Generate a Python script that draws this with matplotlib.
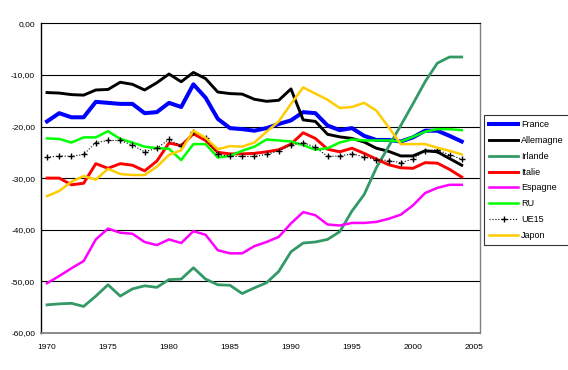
import matplotlib
matplotlib.use("Agg")
import matplotlib.pyplot as plt
from matplotlib.ticker import FuncFormatter

# ── data ────────────────────────────────────────────────────────────────────
years = list(range(1970, 2005))

france = [-19.0, -17.4, -18.2, -18.2, -15.2, -15.4, -15.6, -15.6, -17.4, -17.2,
          -15.4, -16.2, -11.8, -14.4, -18.5, -20.3, -20.5, -20.8, -20.3, -19.5,
          -18.8, -17.2, -17.4, -19.8, -20.7, -20.3, -21.8, -22.6, -22.6, -22.9,
          -22.1, -20.8, -20.8, -21.8, -22.9]
allemagne = [-13.4, -13.5, -13.8, -13.9, -12.9, -12.8, -11.4, -11.8, -12.9, -11.5,
             -9.8, -11.3, -9.5, -10.7, -13.3, -13.6, -13.7, -14.7, -15.1, -14.9,
             -12.7, -18.7, -19.0, -21.5, -22.0, -22.3, -23.0, -24.2, -24.8, -25.7,
             -25.7, -24.7, -24.9, -26.2, -27.5]
irlande = [-54.6, -54.4, -54.3, -54.9, -52.9, -50.7, -52.9, -51.5, -50.9, -51.2,
           -49.7, -49.6, -47.4, -49.6, -50.7, -50.8, -52.4, -51.3, -50.3, -48.1,
           -44.3, -42.6, -42.4, -41.9, -40.4, -36.4, -33.2, -28.0, -23.9, -19.8,
           -15.6, -11.3, -7.7, -6.5, -6.5]
italie = [-30.0, -30.0, -31.3, -31.0, -27.2, -28.1, -27.2, -27.5, -28.6, -26.7,
          -23.2, -23.7, -21.4, -22.7, -25.0, -25.3, -25.3, -25.2, -24.9, -24.5,
          -23.4, -21.2, -22.3, -24.4, -24.9, -24.2, -25.2, -26.3, -27.4, -28.0,
          -28.1, -27.0, -27.1, -28.3, -29.8]
espagne = [-50.4, -49.0, -47.5, -46.1, -41.9, -39.8, -40.6, -40.8, -42.4, -43.0,
           -41.9, -42.6, -40.3, -41.0, -44.0, -44.6, -44.6, -43.2, -42.4, -41.4,
           -38.8, -36.6, -37.2, -39.0, -39.2, -38.7, -38.7, -38.5, -37.9, -37.1,
           -35.3, -32.9, -31.9, -31.3, -31.3]
ru = [-22.3, -22.4, -23.1, -22.1, -22.1, -20.9, -22.4, -23.1, -23.9, -24.2,
      -24.3, -26.5, -23.4, -23.4, -26.0, -25.7, -24.7, -23.9, -22.5, -22.7,
      -22.9, -23.6, -24.5, -24.2, -23.1, -22.5, -22.7, -22.7, -22.7, -22.9,
      -22.0, -21.0, -20.5, -20.5, -20.7]
ue15 = [-26.0, -25.7, -25.8, -25.4, -23.1, -22.7, -22.7, -23.6, -24.9, -24.2,
        -22.5, -23.8, -21.0, -22.3, -25.4, -25.8, -25.8, -25.8, -25.4, -24.7,
        -23.6, -23.1, -24.0, -25.8, -25.7, -25.3, -25.9, -26.4, -26.6, -27.0,
        -26.3, -24.7, -24.5, -25.5, -26.3]
japon = [-33.5, -32.5, -30.7, -29.6, -30.3, -28.2, -29.2, -29.4, -29.4, -27.8,
         -25.5, -24.6, -20.8, -22.2, -24.4, -23.8, -23.9, -23.1, -21.0, -19.0,
         -15.6, -12.4, -13.6, -14.8, -16.4, -16.2, -15.4, -16.9, -20.1, -23.4,
         -23.4, -23.4, -24.1, -24.7, -25.4]

x_ticks = [1970, 1975, 1980, 1985, 1990, 1995, 2000, 2005]
y_ticks = [0, -10, -20, -30, -40, -50, -60]

# ── figure ──────────────────────────────────────────────────────────────────
plt.rcParams["font.family"] = ["Liberation Sans Narrow", "Liberation Sans", "DejaVu Sans"]

fig = plt.figure(figsize=(5.68, 3.70), dpi=100)
ax = fig.add_axes([40.7 / 568, 1 - 332.7 / 370, (480 - 40.7) / 568, (332.7 - 23.5) / 370])

for yv in y_ticks[1:-1]:
    ax.axhline(yv, color="black", linewidth=0.8, zorder=1)

ax.plot(years, france, color="#0000FF", linewidth=2.9, label="France", zorder=3)
ax.plot(years, allemagne, color="black", linewidth=2.1, label="Allemagne", zorder=3)
ax.plot(years, irlande, color="#339966", linewidth=2.0, label="Irlande", zorder=3)
ax.plot(years, italie, color="#FF0000", linewidth=2.1, label="Italie", zorder=3)
ax.plot(years, espagne, color="#FF00FF", linewidth=1.8, label="Espagne", zorder=3)
ax.plot(years, ru, color="#00FF00", linewidth=1.8, label="RU", zorder=3)
ax.plot(years, ue15, color="black", linewidth=0.8, linestyle=":", marker="+",
        markersize=5, markeredgewidth=1.0, label="UE15", zorder=3)
ax.plot(years, japon, color="#FFCC00", linewidth=1.8, label="Japon", zorder=3)

ax.set_xlim(1969.48, 2005.5)
ax.set_ylim(-60, 0)
ax.set_xticks(x_ticks)
ax.set_yticks(y_ticks)
ax.yaxis.set_major_formatter(FuncFormatter(lambda v, p: f"{v:.2f}".replace(".", ",")))
ax.tick_params(axis="both", length=0, labelsize=6)
ax.tick_params(axis="y", pad=4)
ax.tick_params(axis="x", pad=8)

ax.spines["left"].set_color("black")
ax.spines["left"].set_linewidth(1.0)
ax.spines["top"].set_color("black")
ax.spines["top"].set_linewidth(0.8)
ax.spines["bottom"].set_color("#808080")
ax.spines["bottom"].set_linewidth(1.3)
ax.spines["right"].set_color("#808080")
ax.spines["right"].set_linewidth(1.0)

handles, labels = ax.get_legend_handles_labels()
leg = fig.legend(handles, labels, loc="upper left",
                 bbox_to_anchor=(484 / 568, 1 - 115 / 370),
                 fontsize=6.5, frameon=True, fancybox=False, handlelength=3.2,
                 handletextpad=0.3, labelspacing=0.75, borderpad=0.6,
                 borderaxespad=0)
leg.get_frame().set_edgecolor("black")
leg.get_frame().set_linewidth(0.8)

fig.savefig("out.png", dpi=100)
